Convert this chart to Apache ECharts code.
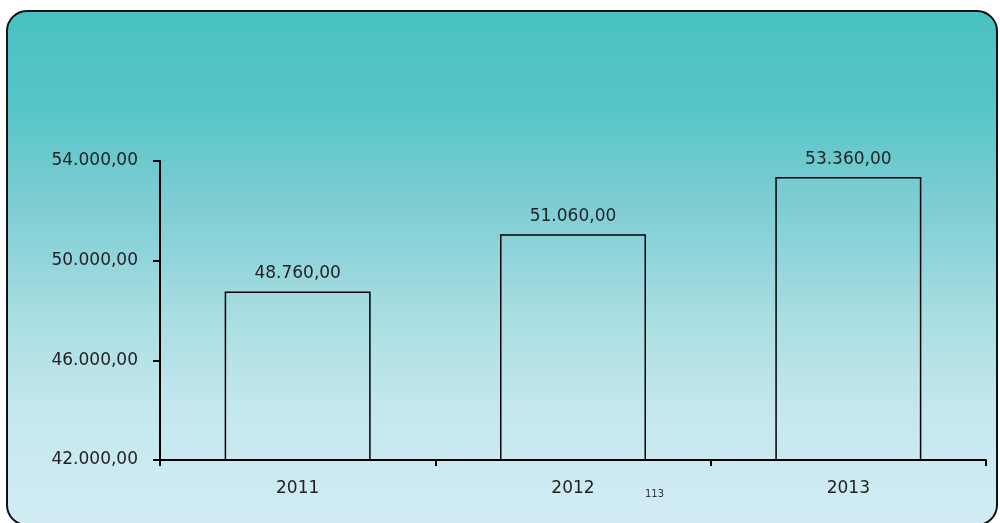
<!DOCTYPE html>
<html><head><meta charset="utf-8">
<script src="https://cdn.jsdelivr.net/npm/echarts@6/dist/echarts.min.js"></script>
<style>html,body{margin:0;padding:0;background:#fff;}#c{width:1000px;height:523px;}</style>
</head><body><div id="c"></div>
<script>
const categories = ['2011', '2012', '2013'];
const values = [48760, 51060, 53360];
const yTicks = [42000, 46000, 50000, 54000];
const pageNumber = '113';

function fmt(v) {
  const parts = v.toFixed(2).split('.');
  return parts[0].replace(/\B(?=(\d{3})+(?!\d))/g, '.') + ',' + parts[1];
}

const chart = echarts.init(document.getElementById('c'), null, {renderer: 'canvas'});
const font = 'DejaVu Sans, Verdana, sans-serif';
chart.setOption({
  animation: false,
  graphic: [
    {
      type: 'rect', z: -10, silent: true,
      shape: {x: 7, y: 11, width: 990, height: 514, r: 20},
      style: {
        fill: new echarts.graphic.LinearGradient(0, 0, 0, 1, [
          {offset: 0, color: '#49c1c2'},
          {offset: 0.18, color: '#56c5c8'},
          {offset: 0.37, color: '#7ccdd3'},
          {offset: 0.48, color: '#92d4dc'},
          {offset: 0.58, color: '#a6dde0'},
          {offset: 0.77, color: '#c4e7ee'},
          {offset: 1, color: '#d2ecf4'}
        ]),
        stroke: '#111', lineWidth: 2
      }
    },
    {
      type: 'text', left: 645, top: 489, silent: true,
      style: {text: pageNumber, font: '10px ' + font, fill: '#333'}
    }
  ],
  grid: {left: 160, right: 14, top: 161, bottom: 63, containLabel: false},
  xAxis: {
    type: 'category', data: categories, boundaryGap: true,
    axisLine: {show: true, lineStyle: {color: '#000', width: 2}},
    axisTick: {show: true, length: 6, inside: false, lineStyle: {color: '#000', width: 2}},
    axisLabel: {color: '#222', fontFamily: font, fontSize: 17, margin: 20}
  },
  yAxis: {
    type: 'value', min: 42000, max: 54000, interval: 4000,
    splitLine: {show: false},
    axisLine: {show: true, lineStyle: {color: '#000', width: 2}},
    axisTick: {show: true, length: 7, lineStyle: {color: '#000', width: 2}},
    axisLabel: {color: '#222', fontFamily: font, fontSize: 17, margin: 22,
      formatter: function (v) { return yTicks.indexOf(v) >= 0 ? fmt(v) : ''; }}
  },
  series: [{
    type: 'bar', data: values, barWidth: 146,
    itemStyle: {color: 'rgba(255,255,255,0)', borderColor: '#000', borderWidth: 1.5},
    label: {show: true, position: 'top', distance: 9, color: '#222', fontFamily: font, fontSize: 17,
      formatter: function (p) { return fmt(p.value); }}
  }]
});
</script></body></html>
